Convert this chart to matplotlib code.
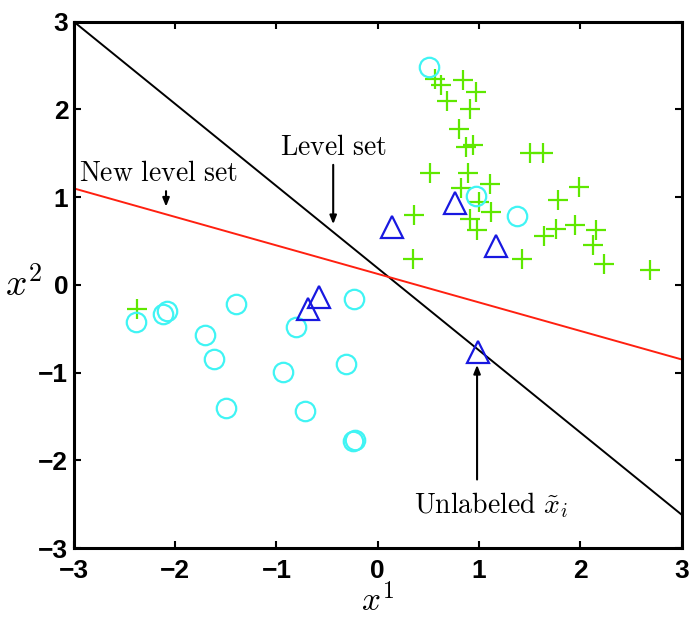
import numpy as np
import matplotlib.pyplot as plt

plt.rcParams['mathtext.fontset'] = 'cm'
plt.rcParams['font.family'] = ['Liberation Sans', 'DejaVu Sans']

# labeled class 1 (green plus)
plus_x = [0.56, 0.62, 0.84, 0.97, 0.68, 0.91, 0.80, 0.87, 0.94, 1.50, 1.63,
          0.52, 0.89, 1.11, 0.82, 1.99, 1.78, 1.00, 1.12, 0.36, 0.91, 0.98,
          1.76, 1.64, 1.95, 2.15, 2.12, 2.23, 0.35, 1.42, 2.69, -2.38]
plus_y = [2.35, 2.28, 2.33, 2.20, 2.10, 2.01, 1.78, 1.57, 1.60, 1.50, 1.50,
          1.27, 1.27, 1.15, 1.10, 1.12, 0.97, 0.95, 0.83, 0.80, 0.75, 0.62,
          0.64, 0.56, 0.685, 0.62, 0.45, 0.24, 0.30, 0.29, 0.17, -0.27]

# labeled class 2 (cyan circles)
circ_x = [0.51, 0.97, 1.37, -2.39, -2.12, -2.08, -1.40, -1.71, -1.62, -1.50,
          -0.94, -0.81, -0.72, -0.23, -0.31, -0.24, -0.22]
circ_y = [2.48, 1.01, 0.79, -0.42, -0.33, -0.30, -0.22, -0.57, -0.84, -1.40,
          -0.99, -0.48, -1.44, -0.16, -0.90, -1.78, -1.77]

# unlabeled points (blue triangles)
tri_x = [0.76, 0.14, 1.17, -0.69, -0.58, 0.99]
tri_y = [0.93, 0.66, 0.44, -0.27, -0.14, -0.76]

# decision lines
level_x = [-3, 3]
level_y = [3, -2.62]
new_level_y = [1.1, -0.85]

fig = plt.figure(figsize=(6.9, 6.2), dpi=100)
ax = fig.add_axes([0.107, 0.116, 0.881, 0.849])

ax.plot(level_x, level_y, color='black', lw=1.4)
ax.plot(level_x, new_level_y, color='#ff2010', lw=1.4)

ax.plot(plus_x, plus_y, '+', color='#5fe800', ms=15, mew=1.6, ls='none')
ax.plot(circ_x, circ_y, 'o', mfc='none', mec='#40f4f4', ms=14, mew=1.6, ls='none')
ax.plot(tri_x, tri_y, '^', mfc='none', mec='#1818e0', ms=16, mew=1.6, ls='none')

arrow = dict(arrowstyle='-|>,head_length=0.5,head_width=0.2', color='black', lw=1.5)
ax.annotate('', xy=(-2.09, 0.86), xytext=(-2.09, 1.10), arrowprops=arrow)
ax.annotate('', xy=(-0.44, 0.66), xytext=(-0.44, 1.40), arrowprops=arrow)
ax.annotate('', xy=(0.98, -0.88), xytext=(0.98, -2.25), arrowprops=arrow)

ax.text(-2.95, 1.26, r'$\mathrm{New\ level\ set}$', fontsize=20, va='center', ha='left')
ax.text(-0.44, 1.56, r'$\mathrm{Level\ set}$', fontsize=20, va='center', ha='center')
ax.text(1.12, -2.51, r'$\mathrm{Unlabeled}\ \tilde{x}_i$', fontsize=20, va='center', ha='center')

ax.set_xlim(-3, 3)
ax.set_ylim(-3, 3)
ax.set_xticks(np.arange(-3, 4))
ax.set_yticks(np.arange(-3, 4))
ax.set_xticklabels(['\u22123', '\u22122', '\u22121', '0', '1', '2', '3'])
ax.set_yticklabels(['\u22123', '\u22122', '\u22121', '0', '1', '2', '3'])
ax.tick_params(direction='in', top=True, right=True, length=5, width=1.5,
               labelsize=19)
ax.tick_params(axis='x', pad=8)
ax.tick_params(axis='y', pad=4)
for lab in ax.get_xticklabels() + ax.get_yticklabels():
    lab.set_fontweight('bold')
for s in ax.spines.values():
    s.set_linewidth(2.2)

ax.set_xlabel(r'$x^1$', fontsize=24, labelpad=0)
ax.set_ylabel(r'$x^2$', fontsize=27, rotation=0, labelpad=10, va='center')

fig.savefig('out.png', dpi=100)
